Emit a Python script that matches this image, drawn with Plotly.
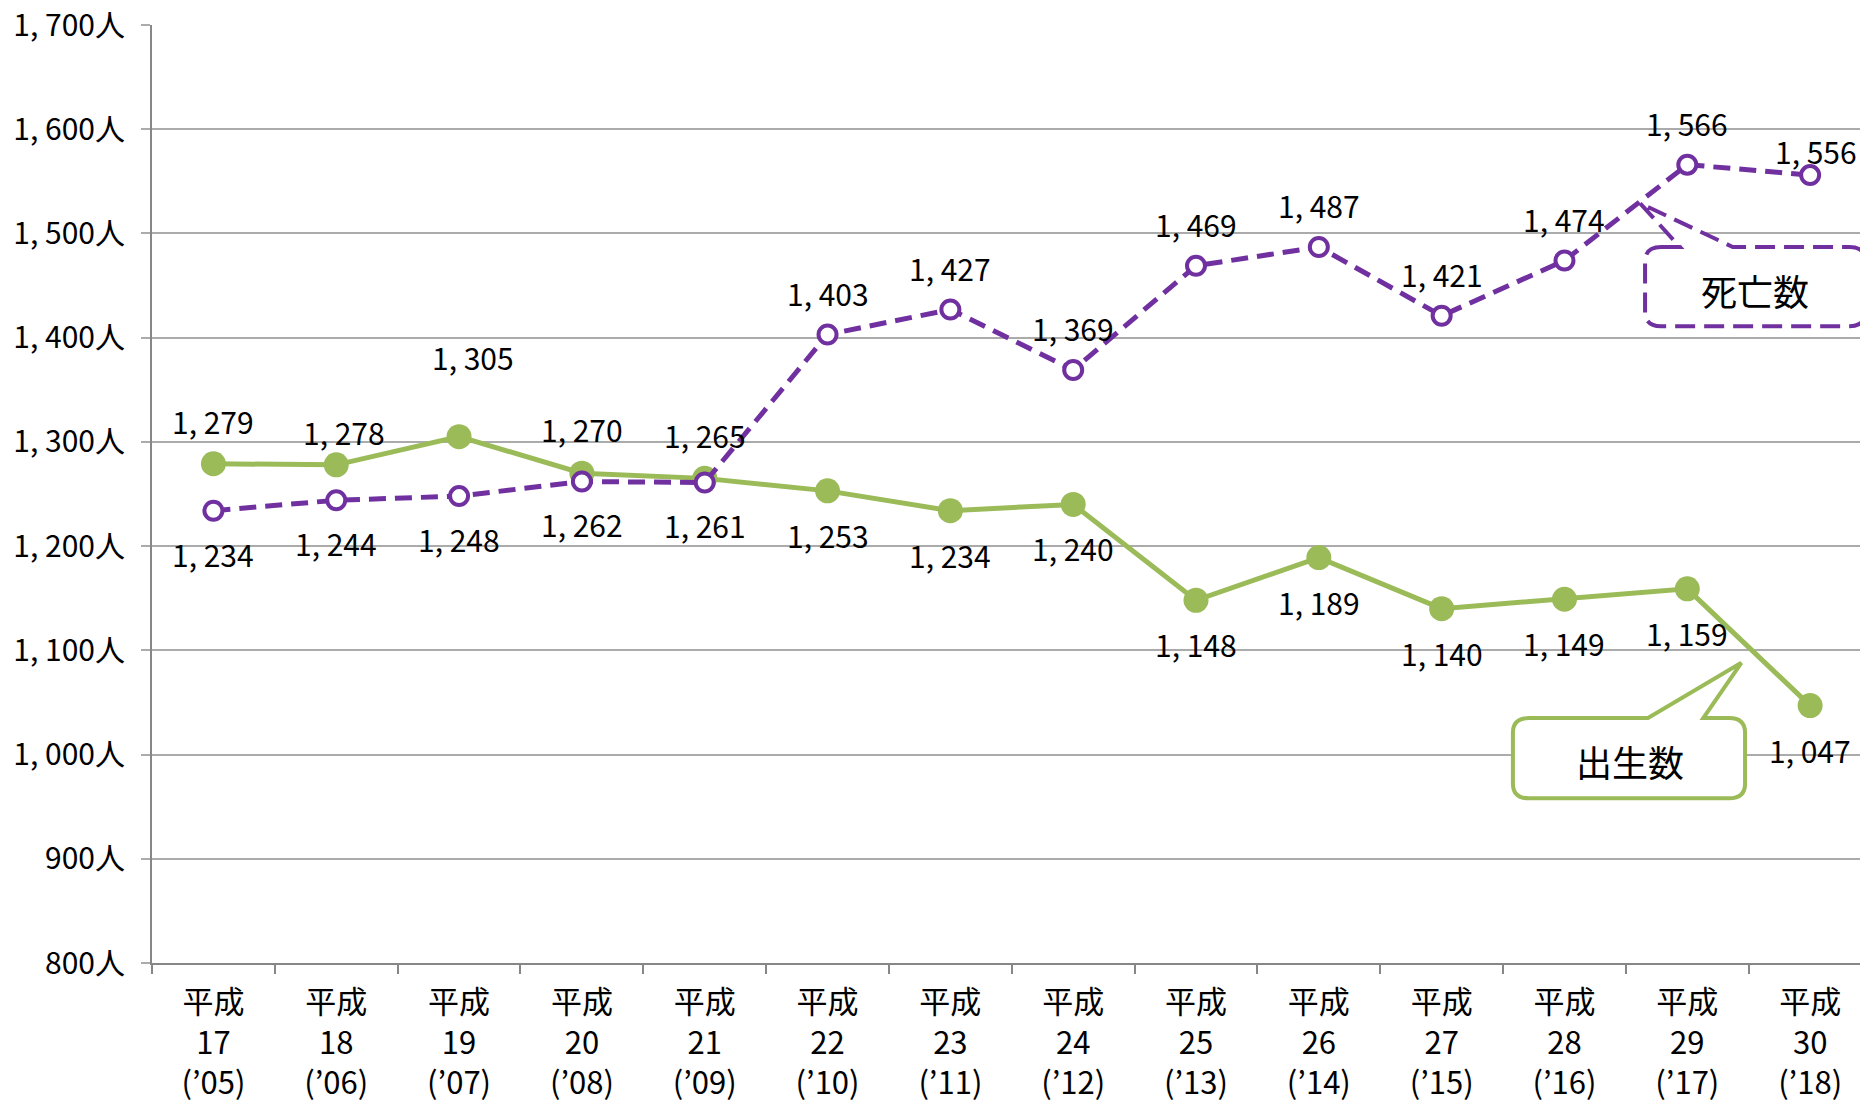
import plotly.graph_objects as go

# Heisei era year and Western year for each category
era_years = ["17", "18", "19", "20", "21", "22", "23", "24", "25", "26", "27", "28", "29", "30"]
western_years = ["05", "06", "07", "08", "09", "10", "11", "12", "13", "14", "15", "16", "17", "18"]

# Number of births and deaths per year (persons)
births = [1279, 1278, 1305, 1270, 1265, 1253, 1234, 1240, 1148, 1189, 1140, 1149, 1159, 1047]
deaths = [1234, 1244, 1248, 1262, 1261, 1403, 1427, 1369, 1469, 1487, 1421, 1474, 1566, 1556]

# Value axis ticks
y_tick_values = [800, 900, 1000, 1100, 1200, 1300, 1400, 1500, 1600, 1700]

# Data-label nudges in pixels (positive dy = upwards)
births_label_dy = [43, 33, 80, 44, 43, -44, -44, -44, -44, -44, -44, -44, -44, -44]
births_label_dx = [0, 8, 14, 0, 0, 0, 0, 0, 0, 0, 0, 0, 0, 0]
deaths_label_dy = [-43, -43, -43, -43, -42, 42, 42, 42, 42, 42, 42, 42, 42, 24]
deaths_label_dx = [0, 0, 0, 0, 0, 0, 0, 0, 0, 0, 0, 0, 0, 6]

GREEN = "#9BBB59"
PURPLE = "#7030A0"
FONT = "Noto Sans CJK JP"


def fmt_num(v):
    return f"{v // 1000}, {v % 1000:03d}" if v >= 1000 else str(v)


categories = [f"平成<br>{e}<br>(’{w})" for e, w in zip(era_years, western_years)]
y_tick_text = [fmt_num(v) + "人" for v in y_tick_values]

fig = go.Figure()

fig.add_trace(go.Scatter(
    x=categories, y=births, mode="lines+markers", name="出生数",
    line=dict(color=GREEN, width=5),
    marker=dict(symbol="circle", size=25, color=GREEN),
    hoverinfo="skip",
))
fig.add_trace(go.Scatter(
    x=categories, y=deaths, mode="lines+markers", name="死亡数",
    line=dict(color=PURPLE, width=5, dash="17px,9px"),
    marker=dict(symbol="circle", size=18, color="white",
                line=dict(color=PURPLE, width=4)),
    hoverinfo="skip",
))

annotations = []
for i, v in enumerate(births):
    annotations.append(dict(
        x=i, y=v, xref="x", yref="y", text=fmt_num(v), showarrow=False,
        xshift=births_label_dx[i], yshift=births_label_dy[i],
        font=dict(family=FONT, size=30, color="black"),
        xanchor="center", yanchor="middle",
    ))
for i, v in enumerate(deaths):
    annotations.append(dict(
        x=i, y=v, xref="x", yref="y", text=fmt_num(v), showarrow=False,
        xshift=deaths_label_dx[i], yshift=deaths_label_dy[i],
        font=dict(family=FONT, size=30, color="black"),
        xanchor="center", yanchor="middle",
    ))


def callout_path(x0, x1, y0, y1, rx, ry, xa, xb, xt, yt):
    """Rounded rectangle (data units) with a pointer rising from its top edge."""
    pts = [
        f"M {x0 + rx},{y1}",
        f"L {xa},{y1}",
        f"L {xt},{yt}",
        f"L {xb},{y1}",
        f"L {x1 - rx},{y1}",
        f"Q {x1},{y1} {x1},{y1 - ry}",
        f"L {x1},{y0 + ry}",
        f"Q {x1},{y0} {x1 - rx},{y0}",
        f"L {x0 + rx},{y0}",
        f"Q {x0},{y0} {x0},{y0 + ry}",
        f"L {x0},{y1 - ry}",
        f"Q {x0},{y1} {x0 + rx},{y1}",
        "Z",
    ]
    return " ".join(pts)


shapes = [
    dict(type="path", xref="x", yref="y", layer="above",
         path=callout_path(10.58, 12.47, 958.0, 1035.0, 0.13, 14.0,
                           11.68, 12.13, 12.44, 1088.0),
         fillcolor="white", line=dict(color=GREEN, width=4)),
    dict(type="path", xref="x", yref="y", layer="above",
         path=callout_path(11.656, 13.45, 1411.0, 1487.0, 0.13, 14.0,
                           11.94, 12.37, 11.615, 1529.0),
         fillcolor="white", line=dict(color=PURPLE, width=4, dash="20px,9px")),
]

annotations.append(dict(x=11.534, y=994, xref="x", yref="y", text="出生数",
                        showarrow=False, font=dict(family=FONT, size=36, color="black"),
                        xanchor="center", yanchor="middle"))
annotations.append(dict(x=12.552, y=1446, xref="x", yref="y", text="死亡数",
                        showarrow=False, font=dict(family=FONT, size=36, color="black"),
                        xanchor="center", yanchor="middle"))

fig.update_layout(
    width=1860, height=1101,
    margin=dict(l=152, r=0, t=25, b=138, pad=0),
    plot_bgcolor="white", paper_bgcolor="white",
    showlegend=False,
    font=dict(family=FONT, size=30, color="black"),
    shapes=shapes,
    annotations=annotations,
    xaxis=dict(
        type="category", range=[-0.5, 13.406], automargin=False,
        showgrid=False, zeroline=False,
        showline=True, linecolor="#878787", linewidth=2,
        ticks="outside", tickson="boundaries", ticklen=9,
        tickcolor="#878787", tickwidth=2,
        tickfont=dict(family=FONT, size=31, color="black"),
        ticklabelstandoff=11,
    ),
    yaxis=dict(
        range=[800, 1700], tickvals=y_tick_values, ticktext=y_tick_text,
        automargin=False,
        showgrid=True, gridcolor="#ABABAB", gridwidth=2,
        zeroline=False,
        showline=True, linecolor="#878787", linewidth=2,
        ticks="outside", ticklen=9, tickcolor="#ABABAB", tickwidth=2,
        tickfont=dict(family=FONT, size=30, color="black"),
        ticklabelstandoff=10,
        ticklabeloverflow="allow",
    ),
)

fig.write_html("out.html", config={"displayModeBar": False})
